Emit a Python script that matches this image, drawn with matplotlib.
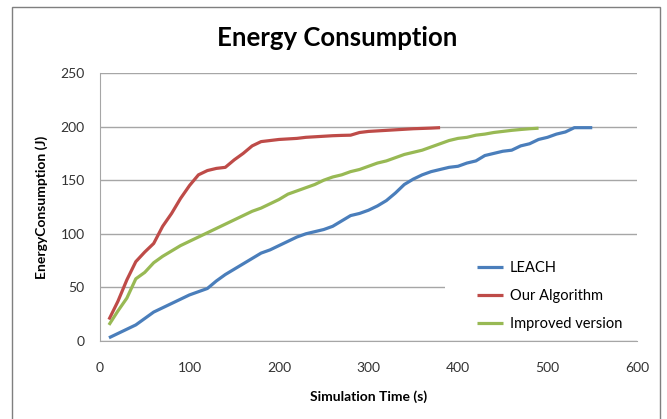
import matplotlib
matplotlib.use("Agg")
import matplotlib.pyplot as plt
from matplotlib.patches import Rectangle

plt.rcParams['font.family'] = ['Lato', 'DejaVu Sans']

t_leach = list(range(10, 551, 10))
leach = [3, 7, 11, 15, 21, 27, 31, 35, 39, 43, 46, 49, 56, 62, 67, 72, 77, 82, 85, 89,
         93, 97, 100, 102, 104, 107, 112, 117, 119, 122, 126, 131, 138, 146, 151, 155,
         158, 160, 162, 163, 166, 168, 173, 175, 177, 178, 182, 184, 188, 190, 193, 195,
         199, 199, 199]

t_ours = list(range(10, 381, 10))
ours = [20, 37, 57, 74, 83, 91, 107, 119, 133, 145, 155, 159, 161, 162, 169, 175, 182,
        186, 187, 188, 188.5, 189, 190, 190.5, 191, 191.5, 191.8, 192, 194.5, 195.5, 196,
        196.5, 197, 197.5, 198, 198.3, 198.6, 199]

t_impr = list(range(10, 491, 10))
impr = [15, 28, 40, 58, 64, 73, 79, 84, 89, 93, 97, 101, 105, 109, 113, 117, 121, 124,
        128, 132, 137, 140, 143, 146, 150, 153, 155, 158, 160, 163, 166, 168, 171, 174,
        176, 178, 181, 184, 187, 189, 190, 192, 193, 194.5, 195.5, 196.5, 197.3, 198, 198.5]

labels = ["LEACH", "Our Algorithm", "Improved version"]
colors = ["#4A7EBB", "#BE4B48", "#98B954"]

W, H = 667, 419
fig = plt.figure(figsize=(W / 100, H / 100), dpi=100)
ax = fig.add_axes([100 / W, 1 - 341 / H, 537 / W, 268 / H])

fig.patches.append(Rectangle((12 / W, -0.1), 648 / W, 1.1 - 7 / H, transform=fig.transFigure,
                             fill=False, edgecolor="#7f7f7f", linewidth=1.0))

for tx, ys, lab, c in zip([t_leach, t_ours, t_impr], [leach, ours, impr], labels, colors):
    ax.plot(tx, ys, color=c, linewidth=2.3, label=lab, solid_capstyle='butt', zorder=3)

ax.set_xlim(0, 600)
ax.set_ylim(0, 250)
ax.set_xticks(range(0, 601, 100))
ax.set_yticks(range(0, 251, 50))
ax.grid(axis='y', color="#a6a6a6", linewidth=1.0)
ax.set_axisbelow(True)
for s in ['top', 'right']:
    ax.spines[s].set_visible(False)
for s in ['left', 'bottom']:
    ax.spines[s].set_color("#a6a6a6")
ax.tick_params(length=0, labelsize=10, colors="#333333")
ax.tick_params(axis='x', pad=15)
ax.tick_params(axis='y', pad=11)

# white legend area covering the gridline
ax.add_patch(Rectangle(((445 - 100) / 537, 0.01), 1 - (445 - 100) / 537, (341 - 252) / 268 - 0.01,
                       transform=ax.transAxes, facecolor='white', edgecolor='none', zorder=2))

ax.set_xlabel("Simulation Time (s)", fontsize=10, fontweight='bold', labelpad=12)
ax.set_ylabel("EnergyConsumption (J)", fontsize=10, fontweight='bold', labelpad=9)
fig.text(337 / W, 1 - 38 / H, "Energy Consumption", ha='center', va='center',
         fontsize=18.5, fontweight='bold')

leg = ax.legend(loc='upper left', bbox_to_anchor=((477 - 100) / 537, (341 - 261) / 268),
                frameon=False, fontsize=10.5,
                handlelength=1.8, handletextpad=0.45, labelspacing=0.95,
                borderpad=0, borderaxespad=0)

fig.savefig("out.png", dpi=100)
